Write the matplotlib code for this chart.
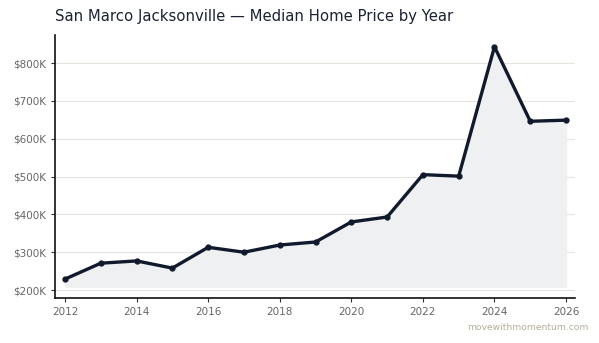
import matplotlib
matplotlib.use("Agg")
import matplotlib.pyplot as plt
from matplotlib.ticker import FuncFormatter

years = [2012, 2013, 2014, 2015, 2016, 2017, 2018, 2019, 2020, 2021, 2022, 2023, 2024, 2025, 2026]
prices_k = [229, 271, 277, 258, 313, 300, 319, 327, 380, 393, 505, 501, 843, 646, 649]
fill_base_k = 209
title = "San Marco Jacksonville \u2014 Median Home Price by Year"
watermark = "movewithmomentum.com"

fig = plt.figure(figsize=(5.99, 3.43), dpi=100)
ax = fig.add_axes([55/599, 45/343, 520/599, 263/343])

ax.fill_between(years, prices_k, fill_base_k, color="#eef0f2", zorder=1)
ax.plot(years, prices_k, color="#111a2c", lw=2.4, marker="o", ms=3.5, zorder=3,
        solid_joinstyle="round")

ax.set_xlim(2011.72, 2026.25)
ax.set_ylim(179, 874)
ax.set_yticks([200, 300, 400, 500, 600, 700, 800])
ax.yaxis.set_major_formatter(FuncFormatter(lambda v, p: f"${int(v)}K"))
ax.set_xticks(range(2012, 2027, 2))

ax.grid(axis="y", color="#e6e4dc", lw=0.8, zorder=0)
ax.set_axisbelow(True)
for s in ["top", "right"]:
    ax.spines[s].set_visible(False)
for s in ["left", "bottom"]:
    ax.spines[s].set_color("#111111")
    ax.spines[s].set_linewidth(1.2)
ax.tick_params(labelsize=7.5, colors="#666666", length=3, width=0.8)
ax.tick_params(axis="both", color="#333333")

fig.text(55/599, 1 - 16/343, title, fontsize=10.7, color="#1a2233", va="center", ha="left")
fig.text(588/599, 1 - 327/343, watermark, fontsize=6.6, color="#b5ae98", ha="right", va="center")

fig.savefig("out.png", dpi=100)
